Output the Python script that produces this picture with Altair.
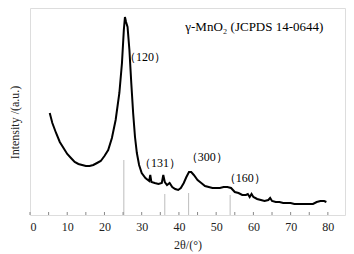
import altair as alt
import pandas as pd

# XRD pattern (2theta, intensity in arbitrary units)
two_theta = [5.3, 6, 7, 8, 9, 10, 11, 12, 13, 14, 15, 16, 17, 18, 19, 20, 21, 22, 23, 24,
             24.7, 25.2, 25.5, 25.8, 26.2, 26.7, 27.2, 27.7, 28.2, 28.7, 29.3, 30, 31, 32, 32.3,
             32.6, 33.5, 34.5, 35.4, 35.8, 36.2, 36.8, 37.5, 38.2, 39, 39.8, 40.5, 41.3, 42,
             42.7, 43.3, 44, 45, 46, 47, 48, 49, 50, 51, 52, 53, 54, 55, 56, 57, 58, 58.5, 59,
             59.5, 60, 61, 62, 63, 64, 64.5, 65, 66, 67, 68, 69, 70, 71, 72, 73, 74, 75, 76, 77,
             78, 79, 79.6]
intensity = [102, 92, 82, 73, 67, 61, 57, 53, 51, 50, 49, 49, 50, 52, 54, 59, 65, 77, 95, 122,
             152, 185, 198, 193, 188, 165, 132, 102, 78, 62, 50, 42, 37, 34, 40,
             33, 32, 31, 32, 40, 33, 30, 32, 28, 26, 25, 27, 32, 38,
             43, 43, 40, 35, 32, 29, 28, 27, 27, 27, 28, 28, 27, 23, 22, 20, 20, 21, 18,
             21, 18, 16, 15, 14, 15, 17, 14, 13, 13, 12, 12, 12, 11, 11, 11, 11, 11, 11, 13,
             14, 14, 13]

# JCPDS 14-0644 reference lines
ref_pos = [25.2, 36.2, 42.6, 53.75]
ref_h = [55, 21, 22, 20]

# peak labels
lab_x = [30.9, 34.9, 47.5, 57.7]
lab_y = [158, 52, 58, 37]
lab_t = ["（120）", "（131）", "（300）", "（160）"]

tick_vals = list(range(0, 85, 5))
x_labels = list(range(0, 90, 10))

XMAX = 84.6
YMAX = 207
FONT = "Liberation Serif"

xs = alt.Scale(domain=[0, XMAX], nice=False, zero=False)
ys = alt.Scale(domain=[0, YMAX], nice=False, zero=False)

ax_x = alt.Axis(title="2θ/(°)", values=x_labels, format="d", tickSize=0, grid=False,
                domain=False, labelOverlap=False, labelFont=FONT, labelFontSize=12,
                labelColor="#222", labelPadding=6, titleFont=FONT, titleFontSize=12,
                titleFontWeight="normal", titleColor="#222", titlePadding=7)
ax_y = alt.Axis(title="Intensity /(a.u.)", labels=False, ticks=False, grid=False,
                domain=False, titleFont=FONT, titleFontSize=12, titleFontWeight="normal",
                titleColor="#222", titlePadding=9, titleY=114)

curve_df = pd.DataFrame({"x": two_theta, "y": intensity})
ref_df = pd.DataFrame({"x": ref_pos, "y": [0] * len(ref_pos), "y2": ref_h})
lab_df = pd.DataFrame({"x": lab_x, "y": lab_y, "t": lab_t})
tick_df = pd.DataFrame({"x": tick_vals})
title_df = pd.DataFrame({"x": [41.7], "y": [188], "t": ["γ-MnO₂ (JCPDS 14-0644)"]})

curve = alt.Chart(curve_df).mark_line(color="black", strokeWidth=2).encode(
    x=alt.X("x:Q", scale=xs, axis=ax_x), y=alt.Y("y:Q", scale=ys, axis=ax_y))

refs = alt.Chart(ref_df).mark_rule(color="#bdbdbd", strokeWidth=1).encode(
    x=alt.X("x:Q", scale=xs, axis=ax_x), y=alt.Y("y:Q", scale=ys, axis=ax_y), y2="y2:Q")

ticks = alt.Chart(tick_df).mark_rule(color="#888", strokeWidth=1).encode(
    x=alt.X("x:Q", scale=xs, axis=ax_x), y=alt.value(YMAX), y2=alt.value(YMAX - 3))

labels = alt.Chart(lab_df).mark_text(font=FONT, fontSize=12, color="black").encode(
    x=alt.X("x:Q", scale=xs, axis=ax_x), y=alt.Y("y:Q", scale=ys, axis=ax_y), text="t:N")

ttl = alt.Chart(title_df).mark_text(font=FONT, fontSize=13, color="black", align="left").encode(
    x=alt.X("x:Q", scale=xs, axis=ax_x), y=alt.Y("y:Q", scale=ys, axis=ax_y), text="t:N")

chart = alt.layer(curve, refs, ticks, labels, ttl).properties(
    width=315, height=YMAX,
    autosize=alt.AutoSizeParams(type="none"),
    padding={"left": 22, "top": 0, "right": 1, "bottom": 38},
).configure_view(stroke="#888", strokeWidth=1).configure_axis(
    labelOverlap=False
).configure(background="white")

chart.save("out.html", embed_options={"renderer": "svg", "actions": False})
